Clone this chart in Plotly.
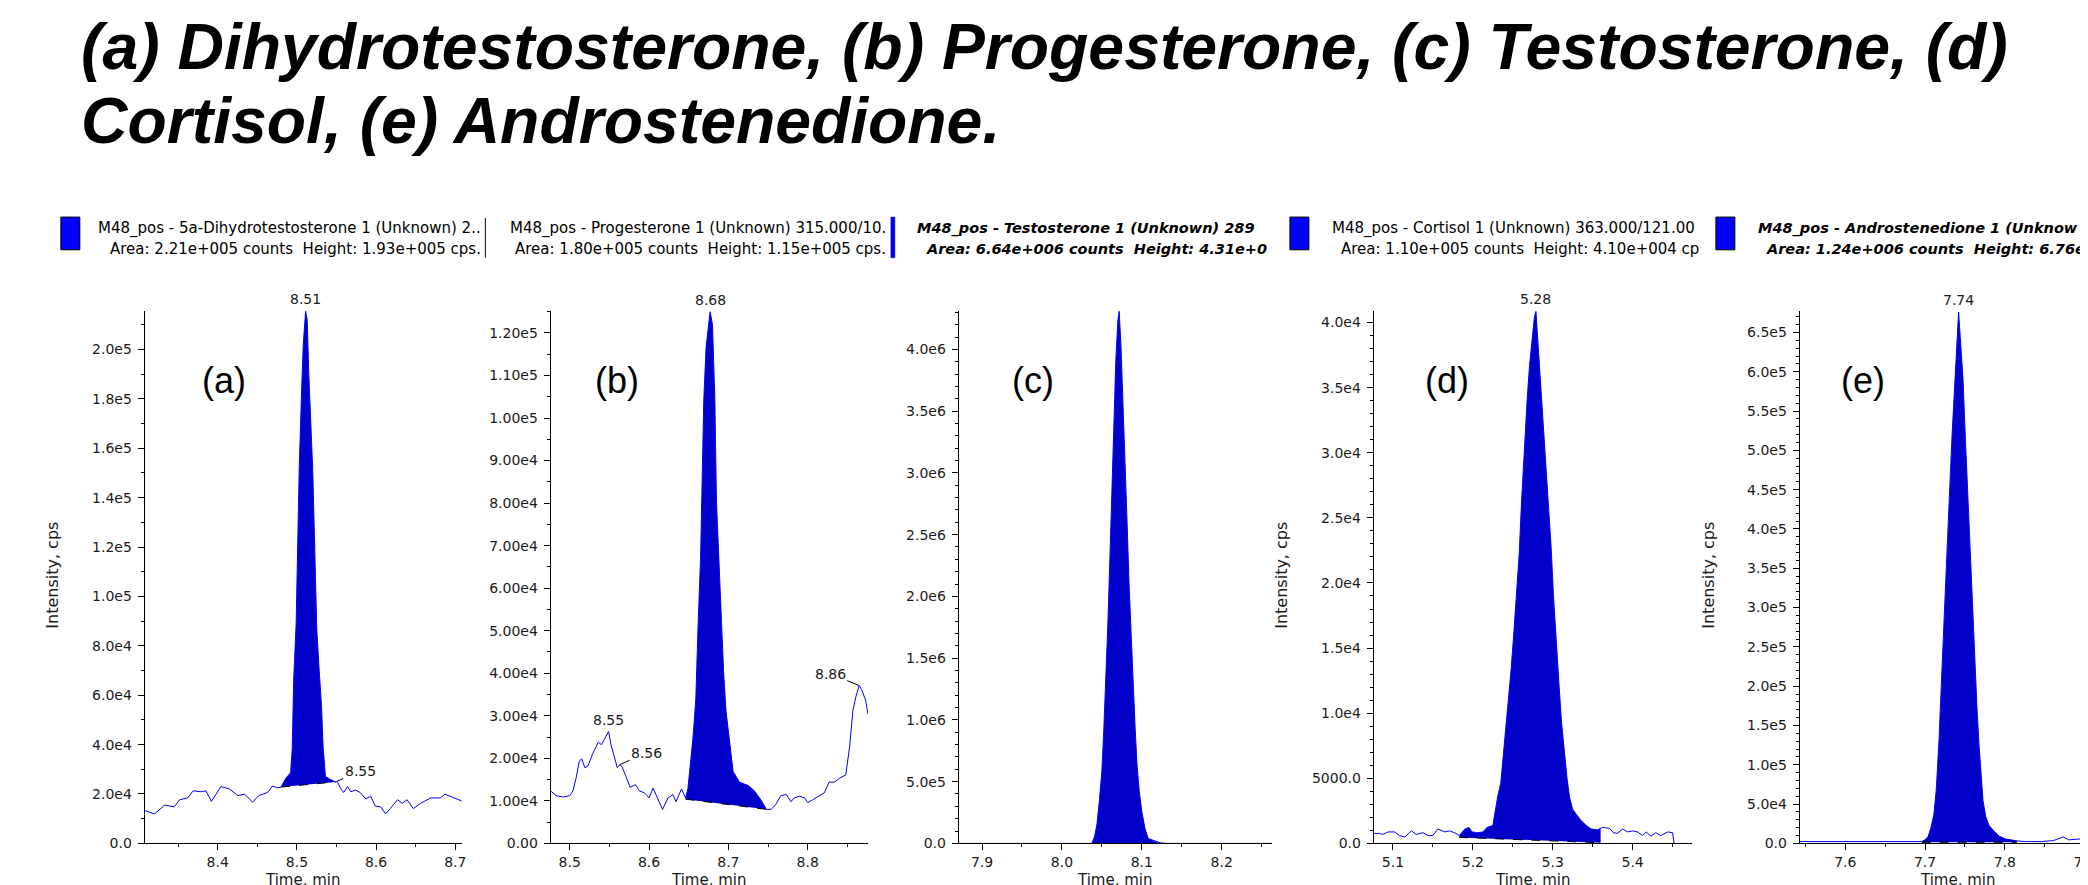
import plotly.graph_objects as go

W, H = 2088, 885

# ---------------- data ----------------
title_line1 = "(a) Dihydrotestosterone, (b) Progesterone, (c) Testosterone, (d)"
title_line2 = "Cortisol, (e) Androstenedione."

# (a) Dihydrotestosterone
a_t = [8.308, 8.320, 8.333, 8.345, 8.352, 8.362, 8.369, 8.379, 8.385, 8.392, 8.404, 8.415, 8.425, 8.434,
       8.444, 8.452, 8.463, 8.469, 8.476, 8.480, 8.486, 8.492, 8.494, 8.496, 8.499, 8.501, 8.503, 8.506,
       8.508, 8.511, 8.513, 8.515, 8.517, 8.520, 8.523, 8.525, 8.528, 8.531, 8.533, 8.536, 8.543, 8.549,
       8.551, 8.555, 8.559, 8.564, 8.568, 8.574, 8.580, 8.587, 8.593, 8.599, 8.606, 8.612, 8.618, 8.627,
       8.633, 8.639, 8.647, 8.656, 8.669, 8.681, 8.687, 8.698, 8.708]
a_i = [13300, 11900, 15500, 14800, 17700, 18400, 21300, 20900, 21300, 17000, 23000, 22000, 19400, 19900,
       16700, 19400, 20600, 23200, 22500, 22800, 26400, 28600, 38000, 67000, 88700, 121300, 153000, 184300,
       202000, 215500, 212000, 190000, 173000, 151000, 113300, 87200, 70600, 56100, 39400, 27100, 25700, 24900,
       25200, 22300, 20600, 23000, 20900, 21600, 20600, 18000, 19100, 15100, 14800, 11900, 14100, 17700,
       16200, 17700, 14100, 16200, 18400, 18400, 19900, 18400, 17200]
a_base_t = [8.480, 8.549]
a_base_i = [22800, 24900]

# (b) Progesterone
b_t = [8.476, 8.483, 8.492, 8.500, 8.504, 8.508, 8.512, 8.515, 8.519, 8.523, 8.529, 8.536, 8.540, 8.544,
       8.549, 8.552, 8.557, 8.560, 8.563, 8.566, 8.571, 8.576, 8.583, 8.588, 8.594, 8.600, 8.605, 8.611,
       8.617, 8.624, 8.630, 8.634, 8.641, 8.646, 8.649, 8.653, 8.656, 8.659, 8.660, 8.662, 8.665, 8.667,
       8.669, 8.672, 8.675, 8.677, 8.680, 8.683, 8.685, 8.688, 8.691, 8.694, 8.697, 8.701, 8.706, 8.714,
       8.725, 8.733, 8.741, 8.748, 8.754, 8.760, 8.766, 8.773, 8.779, 8.783, 8.790, 8.796, 8.800, 8.806,
       8.813, 8.821, 8.827, 8.834, 8.840, 8.848, 8.853, 8.857, 8.861, 8.865, 8.868, 8.873, 8.876]
b_i = [12300, 11200, 10900, 11200, 12300, 15300, 19300, 19900, 17800, 18200, 21100, 23800, 23200, 24500,
       26300, 23200, 19900, 17800, 18500, 18000, 15700, 13200, 13800, 12300, 11900, 10700, 13000, 10700,
       8000, 10700, 11500, 9800, 12800, 10700, 12800, 20300, 26200, 34100, 41300, 52200, 67300, 84900,
       104200, 116800, 122000, 125000, 122000, 104200, 80300, 66400, 52200, 40400, 31200, 24500, 16900, 14400,
       13600, 12300, 10200, 8000, 8000, 9200, 11200, 11500, 9800, 10700, 11100, 10700, 9600, 10200,
       10900, 11900, 14400, 14400, 15300, 16100, 22800, 31200, 34600, 37100, 36200, 33700, 30400]
b_base_t = [8.646, 8.748]
b_base_i = [10400, 8000]

# (c) Testosterone
c_t = [7.871, 8.000, 8.0375, 8.041, 8.044, 8.047, 8.050, 8.0525, 8.055, 8.0575, 8.060, 8.0625, 8.065,
       8.0675, 8.070, 8.0717, 8.074, 8.0767, 8.079, 8.0817, 8.084, 8.0867, 8.089, 8.0917, 8.094, 8.0967,
       8.100, 8.104, 8.108, 8.1167, 8.123, 8.130, 8.263]
c_i = [0, 0, 0, 58000, 160000, 350000, 580000, 930000, 1300000, 1770000, 2290000, 2810000, 3390000,
       3910000, 4230000, 4310000, 4020000, 3560000, 3040000, 2580000, 2110000, 1680000, 1270000, 930000,
       640000, 430000, 260000, 120000, 40000, 20000, 5000, 0, 0]
c_base_t = [8.0375, 8.123]
c_base_i = [0, 0]

# (d) Cortisol
d_t = [5.076, 5.083, 5.087, 5.094, 5.102, 5.108, 5.115, 5.123, 5.129, 5.1375, 5.144, 5.150, 5.156, 5.165,
       5.171, 5.179, 5.183, 5.190, 5.195, 5.199, 5.206, 5.2125, 5.218, 5.225, 5.228, 5.231, 5.235, 5.238,
       5.241, 5.245, 5.248, 5.251, 5.2546, 5.258, 5.261, 5.2646, 5.268, 5.271, 5.2746, 5.277, 5.279, 5.281,
       5.285, 5.288, 5.291, 5.2946, 5.298, 5.301, 5.3046, 5.308, 5.311, 5.3146, 5.318, 5.321, 5.325, 5.330,
       5.335, 5.342, 5.348, 5.356, 5.360, 5.3625, 5.371, 5.376, 5.381, 5.3875, 5.394, 5.400, 5.406, 5.4125,
       5.417, 5.423, 5.429, 5.435, 5.444, 5.450, 5.452]
d_i = [770, 770, 690, 880, 880, 600, 490, 960, 690, 820, 600, 600, 1100, 880,
       960, 770, 600, 1100, 1230, 880, 820, 880, 1230, 1370, 2470, 3560, 4660, 6580,
       8770, 11240, 13430, 15900, 19180, 22200, 26310, 30690, 34120, 36720, 38920, 40400, 40870, 38920,
       35630, 32340, 29320, 26040, 22750, 18910, 15070, 12060, 9320, 6850, 4930, 3560, 2600, 2190,
       1780, 1370, 1100, 1040, 1150, 1230, 1150, 820, 770, 1100, 880, 960, 880, 600,
       880, 550, 820, 600, 880, 820, 0]
d_base_t = [5.183, 5.360]
d_base_i = [460, 50]

# (e) Androstenedione
e_t = [7.543, 7.600, 7.650, 7.6958, 7.700, 7.704, 7.7075, 7.711, 7.714, 7.7175, 7.721, 7.724, 7.7275,
       7.731, 7.734, 7.7375, 7.740, 7.742, 7.744, 7.7475, 7.750, 7.7525, 7.755, 7.7575, 7.760, 7.7625,
       7.765, 7.7675, 7.770, 7.7725, 7.776, 7.780, 7.786, 7.793, 7.801, 7.810, 7.815, 7.826, 7.846,
       7.861, 7.867, 7.873, 7.880, 7.892, 7.906]
e_i = [2300, 2300, 2300, 2300, 4500, 9100, 20500, 36400, 68200, 131800, 218000, 295000, 377000,
       455000, 523000, 591000, 641000, 676000, 645000, 591000, 527000, 468000, 405000, 341000, 277000, 223000,
       173000, 127000, 86000, 55000, 34000, 23000, 16000, 9100, 5500, 3600, 3200, 2300, 2300,
       3600, 5500, 8200, 4500, 5500, 4500]
e_base_t = [7.6958, 7.815]
e_base_i = [1400, 1400]

# tick values / labels
a_xticks = [8.4, 8.5, 8.6, 8.7]
b_xticks = [8.5, 8.6, 8.7, 8.8]
c_xticks = [7.9, 8.0, 8.1, 8.2]
d_xticks = [5.1, 5.2, 5.3, 5.4]
e_xticks = [7.6, 7.7, 7.8, 7.9]

a_yticks = [0, 2e4, 4e4, 6e4, 8e4, 1e5, 1.2e5, 1.4e5, 1.6e5, 1.8e5, 2e5]
a_ylabels = ["0.0", "2.0e4", "4.0e4", "6.0e4", "8.0e4", "1.0e5", "1.2e5", "1.4e5", "1.6e5", "1.8e5", "2.0e5"]
b_yticks = [0, 1e4, 2e4, 3e4, 4e4, 5e4, 6e4, 7e4, 8e4, 9e4, 1e5, 1.1e5, 1.2e5]
b_ylabels = ["0.00", "1.00e4", "2.00e4", "3.00e4", "4.00e4", "5.00e4", "6.00e4", "7.00e4", "8.00e4",
             "9.00e4", "1.00e5", "1.10e5", "1.20e5"]
c_yticks = [0, 5e5, 1e6, 1.5e6, 2e6, 2.5e6, 3e6, 3.5e6, 4e6]
c_ylabels = ["0.0", "5.0e5", "1.0e6", "1.5e6", "2.0e6", "2.5e6", "3.0e6", "3.5e6", "4.0e6"]
d_yticks = [0, 5e3, 1e4, 1.5e4, 2e4, 2.5e4, 3e4, 3.5e4, 4e4]
d_ylabels = ["0.0", "5000.0", "1.0e4", "1.5e4", "2.0e4", "2.5e4", "3.0e4", "3.5e4", "4.0e4"]
e_yticks = [0, 5e4, 1e5, 1.5e5, 2e5, 2.5e5, 3e5, 3.5e5, 4e5, 4.5e5, 5e5, 5.5e5, 6e5, 6.5e5]
e_ylabels = ["0.0", "5.0e4", "1.0e5", "1.5e5", "2.0e5", "2.5e5", "3.0e5", "3.5e5", "4.0e5", "4.5e5",
             "5.0e5", "5.5e5", "6.0e5", "6.5e5"]

# header texts (as visible, clipped in the original)
a_head = ["M48_pos - 5a-Dihydrotestosterone 1 (Unknown) 2..", "Area: 2.21e+005 counts\u00a0 Height: 1.93e+005 cps."]
b_head = ["M48_pos - Progesterone 1 (Unknown) 315.000/10.", "Area: 1.80e+005 counts\u00a0 Height: 1.15e+005 cps."]
c_head = ["M48_pos - Testosterone 1 (Unknown) 289", "Area: 6.64e+006 counts\u00a0 Height: 4.31e+0"]
d_head = ["M48_pos - Cortisol 1 (Unknown) 363.000/121.00", "Area: 1.10e+005 counts\u00a0 Height: 4.10e+004 cp"]
e_head = ["M48_pos - Androstenedione 1 (Unknow", "Area: 1.24e+006 counts\u00a0 Height: 6.76e"]

# ---------------- layout/style ----------------
TICKFONT = dict(family="DejaVu Sans", size=14, color="#1a1a1a")
LINE_BLUE = "#0000FF"
FILL_BLUE = "#0000C8"
PY_TOP, PY_BOT = 306, 843

panels = [
    dict(t=a_t, i=a_i, bt=a_base_t, bi=a_base_i, px=(137, 455), xr=[8.3077, 8.7084], yr=[0, 2.155e5],
         xt=a_xticks, yt=a_yticks, yl=a_ylabels, yminor=1e4, lab="(a)", labx=217, ytitle=45,
         head=a_head, hx=(476, 476), hanchor="right", bold=False),
    dict(t=b_t, i=b_i, bt=b_base_t, bi=b_base_i, px=(544, 862), xr=[8.476, 8.876], yr=[0, 1.251e5],
         xt=b_xticks, yt=b_yticks, yl=b_ylabels, yminor=5e3, lab="(b)", labx=610, ytitle=None,
         head=b_head, hx=(882, 882), hanchor="right", bold=False),
    dict(t=c_t, i=c_i, bt=c_base_t, bi=c_base_i, px=(953, 1267), xr=[7.8708, 8.263], yr=[0, 4.309e6],
         xt=c_xticks, yt=c_yticks, yl=c_ylabels, yminor=1e5, lab="(c)", labx=1027, ytitle=None,
         head=c_head, hx=(909, 918), hanchor="left", bold=True),
    dict(t=d_t, i=d_i, bt=d_base_t, bi=d_base_i, px=(1369, 1688), xr=[5.0759, 5.4743], yr=[0, 4.087e4],
         xt=d_xticks, yt=d_yticks, yl=d_ylabels, yminor=1e3, lab="(d)", labx=1442, ytitle=1277,
         head=d_head, hx=(1325, 1334), hanchor="left", bold=False),
    dict(t=e_t, i=e_i, bt=e_base_t, bi=e_base_i, px=(1796, 2088), xr=[7.5429, 7.9079], yr=[0, 6.77e5],
         xt=e_xticks, yt=e_yticks, yl=e_ylabels, yminor=1e4, lab="(e)", labx=1859, ytitle=1705,
         head=e_head, hx=(1752, 1760), hanchor="left", bold=True),
]


def fx(x):
    return x / W


def fy(y):
    return 1 - y / H


fig = go.Figure()
annotations = []
shapes = []

for k, p in enumerate(panels, start=1):
    xa = "x" if k == 1 else f"x{k}"
    ya = "y" if k == 1 else f"y{k}"
    t0, t1 = p["bt"]
    seg = [(t, v) for t, v in zip(p["t"], p["i"]) if t0 <= t <= t1]
    fill_x = [s[0] for s in seg] + [t1, t0]
    fill_y = [s[1] for s in seg] + [p["bi"][1], p["bi"][0]]
    fig.add_trace(go.Scatter(x=fill_x, y=fill_y, mode="lines", fill="toself", fillcolor=FILL_BLUE,
                             line=dict(width=0, color=FILL_BLUE), xaxis=xa, yaxis=ya, hoverinfo="skip"))
    fig.add_trace(go.Scatter(x=p["t"], y=p["i"], mode="lines", line=dict(color=LINE_BLUE, width=1),
                             xaxis=xa, yaxis=ya))
    fig.add_trace(go.Scatter(x=p["bt"], y=p["bi"], mode="lines", line=dict(color="black", width=1, dash="dash"),
                             xaxis=xa, yaxis=ya))

    x0, x1 = p["px"]
    axx = dict(domain=[fx(x0), fx(x1)], anchor=ya, range=p["xr"], showline=True, linecolor="black",
               linewidth=1, ticks="outside", ticklen=6, tickcolor="black", tickmode="array",
               tickvals=p["xt"], ticktext=[f"{v:.1f}" for v in p["xt"]], tickfont=TICKFONT,
               ticklabeloverflow="allow",
               showgrid=False, zeroline=False, fixedrange=True,
               minor=dict(ticks="outside", ticklen=3, tickmode="linear", tick0=0, dtick=0.05,
                          tickcolor="black", showgrid=False))
    axy = dict(domain=[fy(PY_BOT), fy(PY_TOP)], anchor=xa, range=p["yr"], showline=True, linecolor="black",
               linewidth=1, ticks="outside", ticklen=6, tickcolor="black", tickmode="array",
               tickvals=p["yt"], ticktext=p["yl"], tickfont=TICKFONT, ticklabelstandoff=3,
               showgrid=False, zeroline=False, fixedrange=True,
               minor=dict(ticks="outside", ticklen=3, tickmode="linear", tick0=0, dtick=p["yminor"],
                          tickcolor="black", showgrid=False))
    fig.update_layout(**{("xaxis" if k == 1 else f"xaxis{k}"): axx, ("yaxis" if k == 1 else f"yaxis{k}"): axy})

    # apex label
    imax = max(range(len(p["i"])), key=lambda j: p["i"][j])
    annotations.append(dict(x=p["t"][imax], y=p["i"][imax], xref=xa, yref=ya, text=f"{p['t'][imax]:.2f}",
                            showarrow=False, yshift=12, font=TICKFONT, xanchor="center", yanchor="middle"))
    # panel letter
    annotations.append(dict(x=fx(p["labx"]), y=fy(376), xref="paper", yref="paper", text=p["lab"],
                            showarrow=False, font=dict(family="Liberation Sans, Arial", size=36, color="black"),
                            xanchor="center", yanchor="middle"))
    # x title
    xc = (x0 + x1) / 2 if k < 5 else (1796 + 2114) / 2
    annotations.append(dict(x=fx(xc), y=fy(869), xref="paper", yref="paper", text="Time, min", showarrow=False,
                            font=dict(family="DejaVu Sans", size=15, color="#1a1a1a"),
                            xanchor="center", yanchor="top"))
    # y title
    if p["ytitle"] is not None:
        annotations.append(dict(x=fx(p["ytitle"]), y=fy(572), xref="paper", yref="paper", text="Intensity, cps",
                                showarrow=False, textangle=-90,
                                font=dict(family="DejaVu Sans", size=16, color="#1a1a1a"),
                                xanchor="center", yanchor="middle"))
    # header text
    if p["bold"]:
        hfont = dict(family="DejaVu Sans", size=14.5, color="black", weight="bold", style="italic")
    else:
        hfont = dict(family="DejaVu Sans", size=15, color="black")
    for line, (hx, hy) in zip(p["head"], zip(p["hx"], (223, 243))):
        annotations.append(dict(x=fx(hx), y=fy(hy), xref="paper", yref="paper", text=line, showarrow=False,
                                font=hfont, xanchor=p["hanchor"], yanchor="middle"))

# secondary peak labels
small = TICKFONT
annotations += [
    dict(x=a_t[42], y=a_i[42], xref="x", yref="y", text="8.55", showarrow=True, ax=23, ay=-10,
         arrowhead=0, arrowwidth=1, arrowcolor="black", font=small, standoff=0),
    dict(x=b_t[14], y=b_i[14], xref="x2", yref="y2", text="8.55", showarrow=False, yshift=12, font=small),
    dict(x=b_t[18], y=b_i[18], xref="x2", yref="y2", text="8.56", showarrow=True, ax=27, ay=-12,
         arrowhead=0, arrowwidth=1, arrowcolor="black", font=small, standoff=0),
    dict(x=b_t[79], y=b_i[79], xref="x2", yref="y2", text="8.86", showarrow=True, ax=-29, ay=-12,
         arrowhead=0, arrowwidth=1, arrowcolor="black", font=small, standoff=0),
]

# title
tfont = dict(family="Liberation Sans, Arial", size=64.3, color="black", weight="bold", style="italic")
annotations.append(dict(x=fx(71), y=fy(39), xref="paper", yref="paper", text=title_line1, showarrow=False,
                        font=tfont, xanchor="left", yanchor="middle"))
annotations.append(dict(x=fx(71), y=fy(114), xref="paper", yref="paper", text=title_line2, showarrow=False,
                        font=tfont, xanchor="left", yanchor="middle"))

# header colour boxes and separators
for bx in (53, 1285, 1712):
    shapes.append(dict(type="rect", xref="paper", yref="paper", x0=fx(bx), x1=fx(bx + 19), y0=fy(244), y1=fy(211),
                       fillcolor=LINE_BLUE, line=dict(color="black", width=1)))
shapes.append(dict(type="rect", xref="paper", yref="paper", x0=fx(885), x1=fx(889), y0=fy(252), y1=fy(211),
                   fillcolor=LINE_BLUE, line=dict(color="#000060", width=0.5)))
shapes.append(dict(type="line", xref="paper", yref="paper", x0=fx(478.5), x1=fx(478.5), y0=fy(252), y1=fy(212),
                   line=dict(color="black", width=1)))

fig.update_layout(width=W, height=H, margin=dict(l=0, r=0, t=0, b=0), paper_bgcolor="white",
                  plot_bgcolor="white", showlegend=False, annotations=annotations, shapes=shapes)

fig.write_html("out.html")
